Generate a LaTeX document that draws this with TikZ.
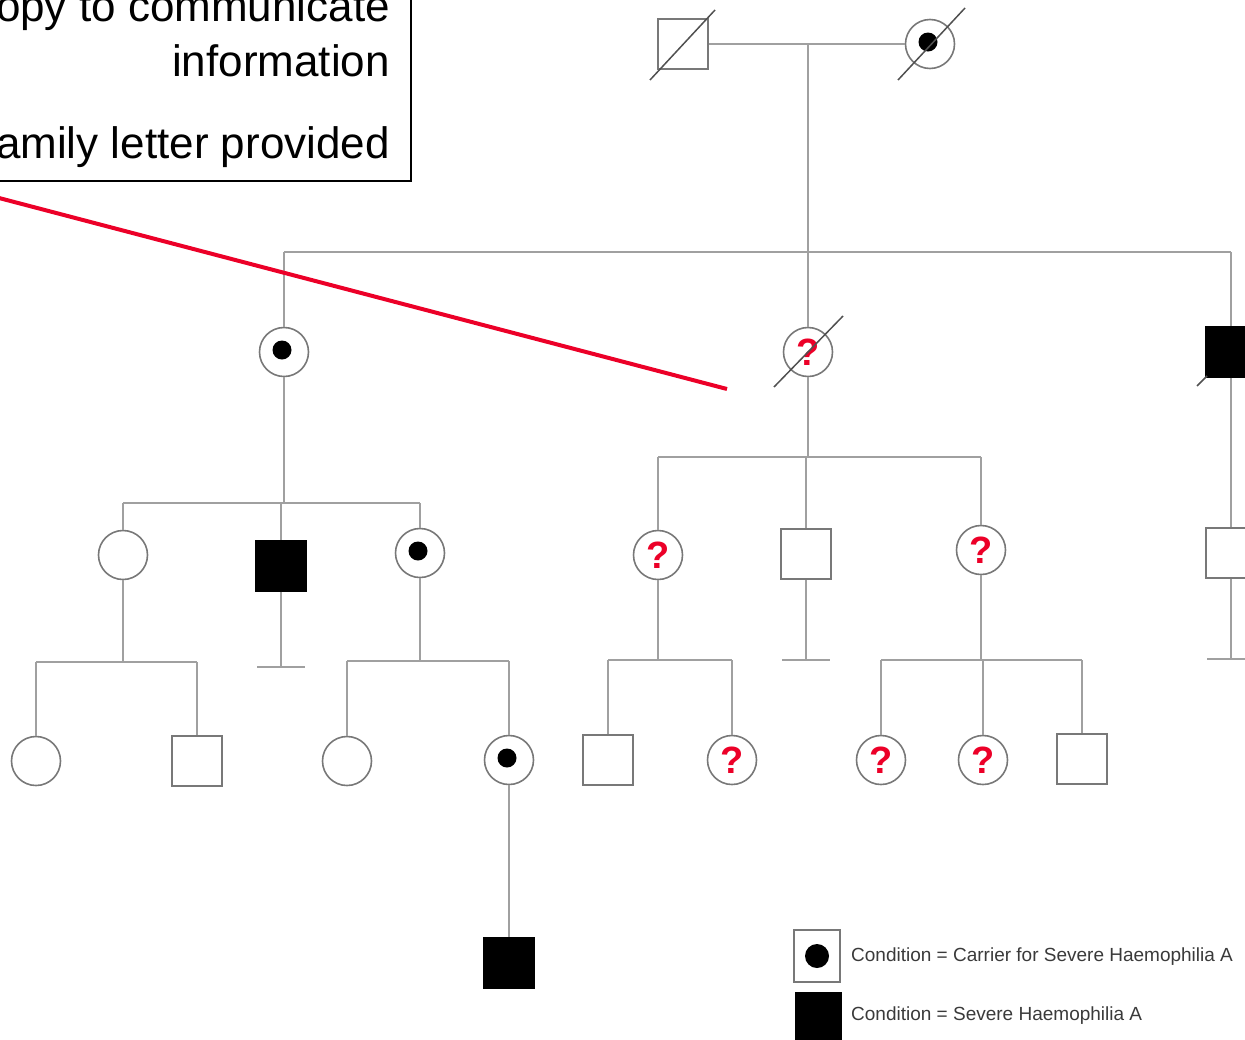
\documentclass[tikz,border=0pt]{standalone}
\usepackage{fontspec}
\setmainfont{Liberation Sans}
\definecolor{linegray}{HTML}{A0A0A0}
\definecolor{symgray}{HTML}{787878}
\definecolor{diaggray}{HTML}{505050}
\definecolor{qred}{RGB}{236,0,40}
\definecolor{legendtext}{HTML}{3A3A3A}
\begin{document}
\begin{tikzpicture}[x=1pt,y=-1pt,
  male/.style={rectangle, draw=symgray, line width=1.6pt, minimum size=50pt, inner sep=0pt, fill=white},
  female/.style={circle, draw=symgray, line width=1.6pt, minimum size=49pt, inner sep=0pt, fill=white},
  affected/.style={fill=black, draw=black},
  carrier/.style={path picture={\fill[black] ([xshift=-2pt,yshift=2pt]path picture bounding box.center) circle (9.5pt);}},
  query/.style={font=\fontsize{38}{40}\selectfont\bfseries, text=qred},
  link/.style={draw=linegray, line width=2pt},
  deceased/.style={draw=diaggray, line width=1.5pt},
  redline/.style={draw=qred, line width=4pt},
  bigtext/.style={font=\fontsize{44}{50}\selectfont, anchor=base east, inner sep=0pt},
  legend/.style={font=\fontsize{19}{22}\selectfont, text=legendtext, anchor=base west, inner sep=0pt}]
\useasboundingbox (0,0) rectangle (1245,1039);
\clip (0,0) rectangle (1245,1039);

% note box in the upper left corner
\draw[line width=1.5pt] (-10,-10) rectangle (411,181);
\node[bigtext] (t1) at (390,21) {opy to communicate};
\node[bigtext] (t2) at (390,76) {information};
\node[bigtext] (t3) at (390,158) {amily letter provided};

% generation I
\node[male] (I1) at (683,44) {};
\node[female, carrier] (I2) at (930,44) {};
\draw[deceased] (650,80) -- (715,10);
\draw[deceased] (898,80) -- (965,8);
\coordinate (m1) at (808,44);
\coordinate (s1) at (808,252);
\draw[link] (I1.east) -- (I2.west);
\draw[link] (m1) -- (s1);

% generation II
\node[female, carrier] (II1) at (284,352) {};
\node[female] (II2) at (808,352) {};
\node[query] (q2) at (II2) {?};
\draw[deceased] (774,387) -- (843,316);
\node[male, affected] (II3) at (1231,352) {};
\draw[deceased] (1197,386) -- (1207,376);
\draw[link] (II1.north |- s1) -- (II3.north |- s1);
\draw[link] (II1.north) -- (II1.north |- s1);
\draw[link] (II2.north) -- (II2.north |- s1);
\draw[link] (II3.north) -- (II3.north |- s1);

% generation III, left branch
\coordinate (s2) at (284,503);
\node[female] (III1) at (123,555) {};
\node[male, affected] (III2) at (281,566) {};
\node[female, carrier] (III3) at (420,553) {};
\draw[link] (II1.south) -- (II1.south |- s2);
\draw[link] (III1.north |- s2) -- (III3.north |- s2);
\draw[link] (III1.north) -- (III1.north |- s2);
\draw[link] (III2.north) -- (III2.north |- s2);
\draw[link] (III3.north) -- (III3.north |- s2);

% generation III, middle branch
\coordinate (s3) at (808,457);
\node[female] (III4) at (658,555) {};
\node[query] (q4) at (III4) {?};
\node[male] (III5) at (806,554) {};
\node[female] (III6) at (981,550) {};
\node[query] (q6) at (III6) {?};
\draw[link] (II2.south) -- (II2.south |- s3);
\draw[link] (III4.north |- s3) -- (III6.north |- s3);
\draw[link] (III4.north) -- (III4.north |- s3);
\draw[link] (III5.north) -- (III5.north |- s3);
\draw[link] (III6.north) -- (III6.north |- s3);

% generation III, right branch
\node[male] (III7) at (1231,553) {};
\draw[link] (II3.south) -- (III7.north);

% generation IV
\coordinate (s4) at (123,662);
\node[female] (IV1) at (36,761) {};
\node[male] (IV2) at (197,761) {};
\draw[link] (III1.south) -- (III1.south |- s4);
\draw[link] (IV1.north |- s4) -- (IV2.north |- s4);
\draw[link] (IV1.north) -- (IV1.north |- s4);
\draw[link] (IV2.north) -- (IV2.north |- s4);

\coordinate (b1) at (281,667);
\draw[link] (III2.south) -- (III2.south |- b1);
\draw[link] ([xshift=-24pt]b1) -- ([xshift=24pt]b1);

\coordinate (s5) at (420,661);
\node[female] (IV3) at (347,761) {};
\node[female, carrier] (IV4) at (509,760) {};
\draw[link] (III3.south) -- (III3.south |- s5);
\draw[link] (IV3.north |- s5) -- (IV4.north |- s5);
\draw[link] (IV3.north) -- (IV3.north |- s5);
\draw[link] (IV4.north) -- (IV4.north |- s5);

\coordinate (s6) at (658,660);
\node[male] (IV5) at (608,760) {};
\node[female] (IV6) at (732,760) {};
\node[query] (q7) at (IV6) {?};
\draw[link] (III4.south) -- (III4.south |- s6);
\draw[link] (IV5.north |- s6) -- (IV6.north |- s6);
\draw[link] (IV5.north) -- (IV5.north |- s6);
\draw[link] (IV6.north) -- (IV6.north |- s6);

\coordinate (b2) at (806,660);
\draw[link] (III5.south) -- (III5.south |- b2);
\draw[link] ([xshift=-24pt]b2) -- ([xshift=24pt]b2);

\coordinate (s7) at (981,660);
\node[female] (IV7) at (881,760) {};
\node[query] (q8) at (IV7) {?};
\node[female] (IV8) at (983,760) {};
\node[query] (q9) at (IV8) {?};
\node[male] (IV9) at (1082,759) {};
\draw[link] (III6.south) -- (III6.south |- s7);
\draw[link] (IV7.north |- s7) -- (IV9.north |- s7);
\draw[link] (IV7.north) -- (IV7.north |- s7);
\draw[link] (IV8.north) -- (IV8.north |- s7);
\draw[link] (IV9.north) -- (IV9.north |- s7);

\coordinate (b3) at (1231,659);
\draw[link] (III7.south) -- (III7.south |- b3);
\draw[link] ([xshift=-24pt]b3) -- ([xshift=24pt]b3);

% generation V
\node[male, affected] (V1) at (509,963) {};
\draw[link] (IV4.south) -- (V1.north);

% pointer from the note box
\coordinate (p0) at (-20,193);
\coordinate (p1) at (727,389);
\draw[redline] (p0) -- (p1);

% legend
\node[rectangle, draw=symgray, line width=1.5pt, minimum width=46pt, minimum height=52pt, inner sep=0pt] (L1) at (817,956) {};
\fill[black] (L1.center) circle (12pt);
\node[rectangle, fill=black, minimum width=47pt, minimum height=48pt, inner sep=0pt] (L2) at (818,1016) {};
\node[legend] (L1t) at (851,961) {Condition = Carrier for Severe Haemophilia A};
\node[legend] (L2t) at (851,1020) {Condition = Severe Haemophilia A};
\end{tikzpicture}
\end{document}
